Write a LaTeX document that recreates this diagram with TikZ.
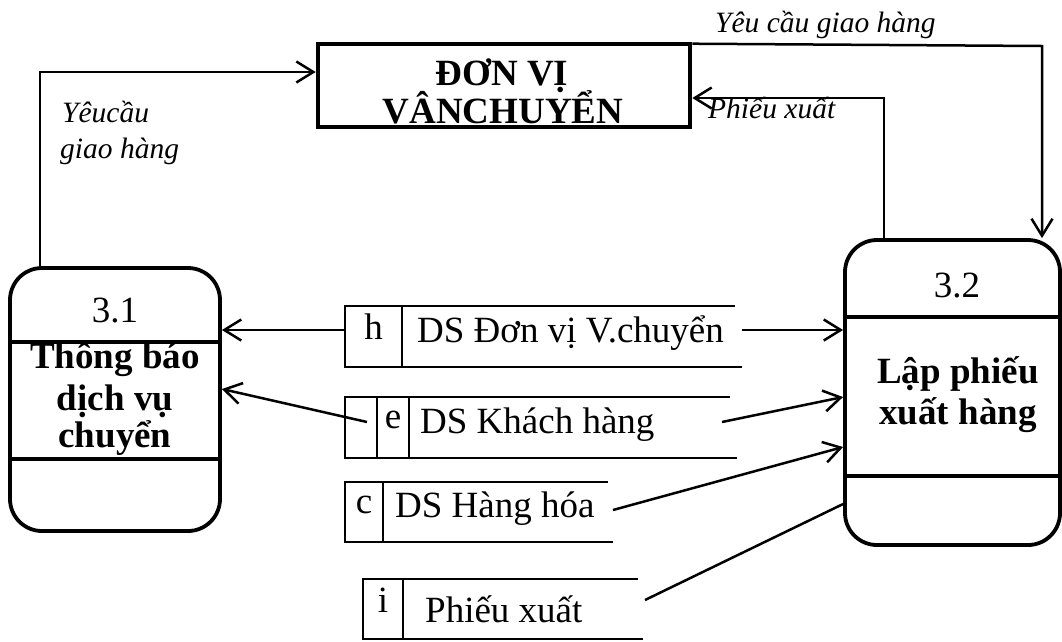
\documentclass[tikz,border=0pt]{standalone}
\usepackage{fontspec}
\setmainfont{Liberation Serif}
\usetikzlibrary{arrows.meta,calc}

\begin{document}
\begin{tikzpicture}[x=1pt,y=-1pt,
  proc/.style={draw, line width=3.8pt, rounded corners=32pt, inner sep=0pt},
  ext/.style={draw, line width=4.6pt, inner sep=0pt},
  flow/.style={line width=2.5pt, -{Straight Barb[length=17pt,width=21pt,line width=2.5pt]}},
  plainflow/.style={line width=2.5pt},
  divider/.style={line width=3.8pt},
  storeline/.style={line width=2pt},
  storebox/.style={inner sep=0pt, outer sep=0pt},
  big/.style={font=\fontsize{37}{40}\selectfont, inner sep=0pt, anchor=base},
  bigl/.style={font=\fontsize{37}{40}\selectfont, inner sep=0pt, anchor=base west},
  bigb/.style={font=\fontsize{37}{40}\selectfont\bfseries, inner sep=0pt, anchor=base},
  lbl/.style={font=\fontsize{29.5}{32}\selectfont\itshape, inner sep=0pt, anchor=base west},
]
\useasboundingbox (0,0) rectangle (1062,641);

% processes and external entity
\node[proc, minimum width=210pt, minimum height=263pt] (p31) at (115,399.5) {};
\node[proc, minimum width=215pt, minimum height=305pt] (p32) at (952.5,392.5) {};
\node[ext, minimum width=372pt, minimum height=83pt] (top) at (504,85.5) {};

\draw[divider] (p31.west |- 0,342) -- (p31.east |- 0,342);
\draw[divider] (p31.west |- 0,459) -- (p31.east |- 0,459);
\draw[divider] (p32.west |- 0,317) -- (p32.east |- 0,317);
\draw[divider] (p32.west |- 0,476) -- (p32.east |- 0,476);

\node[big]  (n31)  at (115,322) {3.1};
\node[bigb] (t31a) at (115,368) {Thông báo};
\node[bigb] (t31b) at (115,410) {dịch vụ};
\node[bigb] (t31c) at (115,447) {chuyển};

\node[big]  (n32)  at (957,297) {3.2};
\node[bigb] (t32a) at (958,383) {Lập phiếu};
\node[bigb] (t32b) at (958,424) {xuất hàng};

\node[bigb] (ta) at (502,85) {ĐƠN VỊ};
\node[bigb] (tb) at (503,123) {VÂNCHUYỂN};

% data stores (open on the right)
\node[storebox, minimum width=397pt, minimum height=61pt] (sh) at (543.5,336.5) {};
\node[storebox, minimum width=392pt, minimum height=61pt] (se) at (541,427.5) {};
\node[storebox, minimum width=268pt, minimum height=60pt] (sc) at (479,512) {};
\node[storebox, minimum width=280pt, minimum height=60pt] (si) at (503,609) {};

\draw[storeline] ([xshift=-7pt]sh.north east) -- (sh.north west) -- (sh.south west) -- (sh.south east);
\draw[storeline] ([xshift=57pt]sh.north west) -- ([xshift=57pt]sh.south west);

\draw[storeline] ([xshift=-7pt]se.north east) -- (se.north west) -- (se.south west) -- (se.south east);
\draw[storeline] ([xshift=32pt]se.north west) -- ([xshift=32pt]se.south west);
\draw[storeline] ([xshift=64pt]se.north west) -- ([xshift=64pt]se.south west);

\draw[storeline] ([xshift=-5pt]sc.north east) -- (sc.north west) -- (sc.south west) -- (sc.south east);
\draw[storeline] ([xshift=38pt]sc.north west) -- ([xshift=38pt]sc.south west);

\draw[storeline] ([xshift=-5pt]si.north east) -- (si.north west) -- (si.south west) -- (si.south east);
\draw[storeline] ([xshift=40pt]si.north west) -- ([xshift=40pt]si.south west);

\node[big]  (sha) at (373.5,339) {h};
\node[bigl] (shb) at (417,342) {DS Đơn vị V.chuyển};
\node[big]  (sea) at (393,428) {e};
\node[bigl] (seb) at (420,433) {DS Khách hàng};
\node[big]  (sca) at (364,513) {c};
\node[bigl] (scb) at (395,517) {DS Hàng hóa};
\node[big]  (sia) at (383,612) {i};
\node[bigl] (sib) at (425,622) {Phiếu xuất};

% flows
\draw[flow] ([xshift=-75pt]p31.north) |- ([yshift=13.5pt]top.west);
\coordinate (yc) at (1042,46);
\draw[flow] ([yshift=-2pt]top.north east) -- (yc) -- (yc |- p32.north);
\draw[flow] ([xshift=-68.5pt]p32.north) |- ([yshift=-12.5pt]top.east);

\draw[flow] ([yshift=6.5pt]sh.west) -- ([yshift=6.5pt]sh.west -| p31.east);
\draw[flow] ([yshift=6.5pt]sh.east) -- ([yshift=6.5pt]sh.east -| p32.west);

\coordinate (e1) at (367,422);
\coordinate (e2) at (722,422);
\coordinate (c2) at (613,510);
\coordinate (i2) at (645,600);
\draw[flow] (e1) -- (p31.east |- 0,389);
\draw[flow] (e2) -- (p32.west |- 0,397);
\draw[flow] (c2) -- (p32.west |- 0,447);
\draw[plainflow] (i2) -- (p32.west |- 0,504);

% flow labels
\node[lbl] (l1)  at (715,32)  {Yêu cầu giao hàng};
\node[lbl] (l2)  at (708,118) {Phiếu xuất};
\node[lbl] (l3a) at (62,122)  {Yêucầu};
\node[lbl] (l3b) at (60,158)  {giao hàng};
\end{tikzpicture}
\end{document}
